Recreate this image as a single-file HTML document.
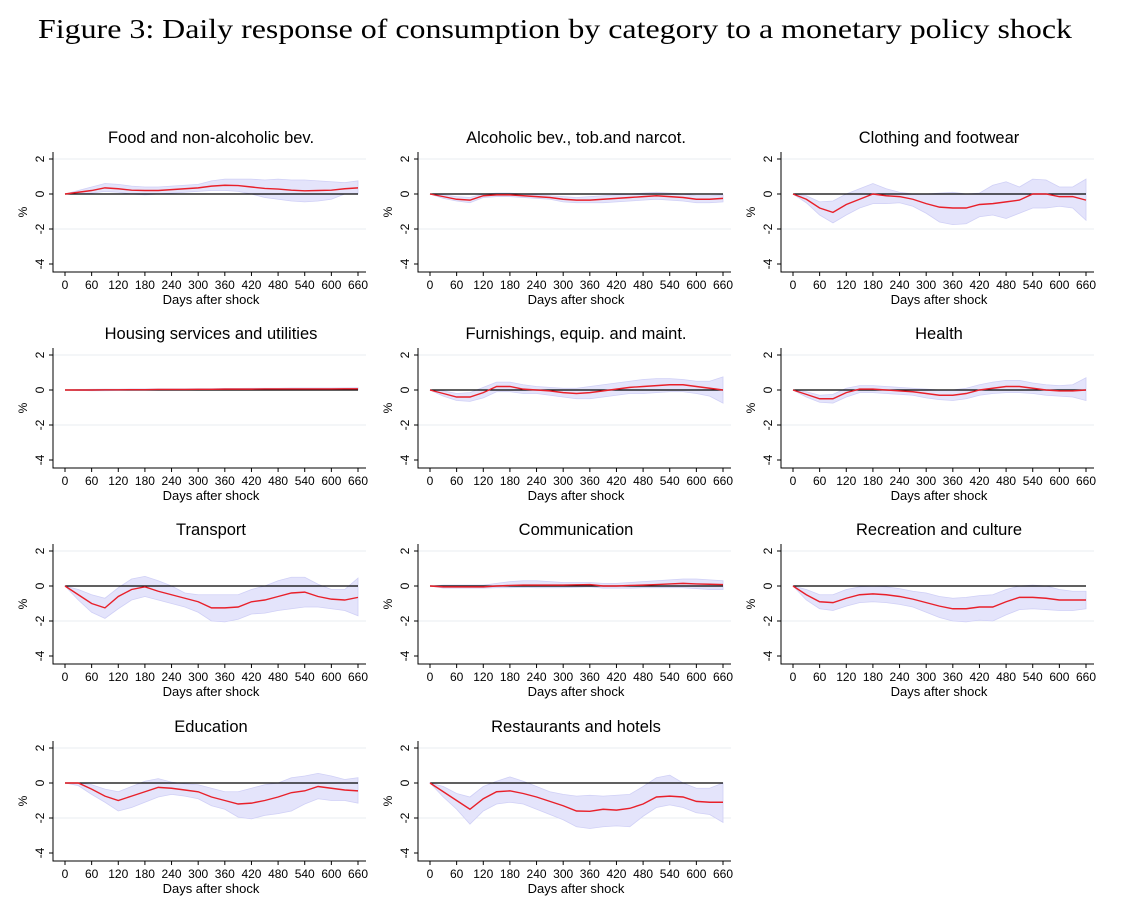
<!DOCTYPE html>
<html><head><meta charset="utf-8"><style>
body{margin:0;background:#fff;width:1128px;height:912px;overflow:hidden}
svg{display:block}
</style></head><body>
<svg id="fig" width="1128" height="912" xmlns="http://www.w3.org/2000/svg">
<text x="555" y="38" text-anchor="middle" font-family="Liberation Serif, serif" font-size="27" textLength="1034" lengthAdjust="spacingAndGlyphs">Figure 3: Daily response of consumption by category to a monetary policy shock</text>
</svg>
<script>
const days=[0,30,60,90,120,150,180,210,240,270,300,330,360,390,420,450,480,510,540,570,600,630,660];
const xTicks=[0,60,120,180,240,300,360,420,480,540,600,660];
const yTicks=[2,0,-2,-4];
const titles=["Food and non-alcoholic bev.","Alcoholic bev., tob.and narcot.","Clothing and footwear","Housing services and utilities","Furnishings, equip. and maint.","Health","Transport","Communication","Recreation and culture","Education","Restaurants and hotels"];
const mean1=[0,.1,.2,.35,.3,.22,.2,.2,.25,.3,.35,.45,.5,.48,.4,.32,.28,.22,.18,.2,.22,.3,.35];
const hi1=[0,.2,.4,.6,.55,.45,.4,.4,.45,.5,.55,.75,.85,.85,.85,.8,.85,.8,.8,.75,.7,.65,.75];
const lo1=[0,0,.05,.15,.1,0,-.05,0,.05,.1,.15,.2,.2,.15,0,-.2,-.3,-.4,-.45,-.4,-.3,0,0];
const mean2=[0,-.15,-.3,-.35,-.1,-.05,-.05,-.1,-.15,-.2,-.3,-.35,-.35,-.3,-.25,-.2,-.15,-.1,-.15,-.2,-.3,-.3,-.25];
const hi2=[0,-.05,-.15,-.2,0,.05,.05,0,-.05,-.1,-.15,-.2,-.15,-.1,-.05,0,.05,.1,.05,0,-.1,-.1,-.05];
const lo2=[0,-.25,-.4,-.5,-.2,-.15,-.15,-.2,-.25,-.3,-.45,-.5,-.5,-.5,-.45,-.4,-.35,-.3,-.35,-.4,-.5,-.5,-.45];
const mean3=[0,-.3,-.8,-1.05,-.6,-.3,0,-.1,-.15,-.3,-.55,-.75,-.8,-.8,-.6,-.55,-.45,-.35,0,0,-.15,-.15,-.35];
const hi3=[0,-.1,-.45,-.4,0,.3,.6,.3,.1,0,0,.05,.1,0,.05,.5,.7,.4,.85,.8,.4,.4,.85];
const lo3=[0,-.5,-1.2,-1.65,-1.2,-.8,-.55,-.55,-.5,-.7,-1.1,-1.6,-1.75,-1.7,-1.3,-1.2,-1.4,-1.1,-.8,-.8,-.7,-.8,-1.5];
const mean4=[0,0,0,.01,.01,.02,.02,.03,.03,.03,.04,.04,.05,.05,.05,.06,.06,.06,.06,.06,.06,.07,.07];
const hi4=[0,.03,.04,.05,.05,.06,.06,.07,.07,.07,.08,.08,.09,.09,.1,.1,.1,.11,.11,.11,.11,.12,.13];
const lo4=[0,-.03,-.04,-.04,-.03,-.02,-.02,-.01,-.01,-.01,0,0,0,0,0,.01,.01,.01,.01,.01,.01,.02,.01];
const mean5=[0,-.2,-.4,-.4,-.15,.2,.2,.05,0,-.05,-.15,-.2,-.15,-.05,.05,.15,.2,.25,.3,.3,.2,.1,0];
const hi5=[0,-.05,-.2,-.15,.15,.45,.45,.3,.2,.15,.1,.1,.2,.3,.4,.5,.6,.65,.65,.6,.5,.5,.75];
const lo5=[0,-.35,-.6,-.65,-.45,-.1,-.1,-.2,-.2,-.3,-.4,-.5,-.5,-.4,-.3,-.2,-.2,-.15,-.1,-.1,-.2,-.35,-.75];
const mean6=[0,-.25,-.5,-.5,-.15,.05,.05,0,-.05,-.1,-.2,-.3,-.3,-.2,0,.1,.2,.2,.1,0,-.05,-.05,0];
const hi6=[0,-.1,-.3,-.25,.1,.25,.25,.2,.15,.1,.05,0,0,.1,.3,.45,.55,.55,.4,.3,.25,.3,.7];
const lo6=[0,-.4,-.7,-.75,-.4,-.15,-.15,-.2,-.25,-.3,-.45,-.55,-.6,-.5,-.3,-.2,-.15,-.15,-.2,-.3,-.35,-.4,-.6];
const mean7=[0,-.5,-1.0,-1.25,-.6,-.2,-.05,-.3,-.5,-.7,-.9,-1.25,-1.25,-1.2,-.9,-.8,-.6,-.4,-.35,-.6,-.75,-.8,-.65];
const hi7=[0,-.2,-.5,-.7,-.1,.4,.55,.3,0,-.4,-.5,-.5,-.5,-.5,-.2,0,.3,.5,.5,.1,-.2,-.2,.45];
const lo7=[0,-.8,-1.5,-1.85,-1.3,-.8,-.6,-.8,-1.0,-1.2,-1.5,-2.0,-2.05,-1.9,-1.6,-1.55,-1.4,-1.3,-1.2,-1.2,-1.3,-1.4,-1.7];
const mean8=[0,-.05,-.05,-.05,-.05,0,.03,.05,.05,.05,.05,.07,.08,0,0,.03,.05,.08,.12,.15,.12,.1,.08];
const hi8=[0,.05,.05,.05,.05,.15,.25,.3,.3,.25,.2,.2,.2,.15,.15,.2,.25,.3,.35,.4,.4,.35,.3];
const lo8=[0,-.12,-.12,-.12,-.12,-.1,-.1,-.08,-.1,-.1,-.1,-.08,-.05,-.12,-.12,-.12,-.1,-.1,-.1,-.1,-.15,-.2,-.2];
const mean9=[0,-.5,-.9,-.95,-.7,-.5,-.45,-.5,-.6,-.75,-.95,-1.15,-1.3,-1.3,-1.2,-1.2,-.9,-.65,-.65,-.7,-.8,-.8,-.8];
const hi9=[0,-.2,-.5,-.5,-.2,-.05,0,-.05,-.15,-.3,-.4,-.6,-.7,-.65,-.55,-.5,-.2,0,.05,0,-.2,-.3,-.3];
const lo9=[0,-.8,-1.3,-1.4,-1.15,-.95,-.9,-.95,-1.05,-1.2,-1.5,-1.8,-2.0,-2.05,-1.95,-2.0,-1.65,-1.35,-1.3,-1.35,-1.4,-1.4,-1.3];
const mean10=[0,0,-.35,-.75,-1.0,-.75,-.5,-.25,-.3,-.4,-.5,-.8,-1.0,-1.2,-1.15,-1.0,-.8,-.55,-.45,-.2,-.3,-.4,-.45];
const hi10=[0,0,-.1,-.35,-.5,-.2,.1,.25,.05,-.05,-.1,-.3,-.5,-.5,-.3,-.1,0,.3,.4,.55,.4,.2,.3];
const lo10=[0,-.15,-.65,-1.1,-1.6,-1.4,-1.1,-.8,-.65,-.75,-.9,-1.3,-1.5,-1.95,-2.05,-1.85,-1.75,-1.6,-1.2,-.9,-1.0,-1.0,-1.15];
const mean11=[0,-.5,-1.0,-1.5,-.9,-.5,-.45,-.6,-.8,-1.05,-1.3,-1.6,-1.62,-1.5,-1.55,-1.45,-1.2,-.8,-.75,-.8,-1.05,-1.1,-1.1];
const hi11=[0,-.2,-.6,-.8,-.2,.1,.35,.1,-.2,-.5,-.65,-.75,-.7,-.75,-.7,-.65,-.2,.3,.45,0,-.3,-.3,0];
const lo11=[0,-.8,-1.5,-2.35,-1.6,-1.2,-1.1,-1.2,-1.5,-1.8,-2.1,-2.5,-2.6,-2.5,-2.45,-2.5,-1.9,-1.4,-1.25,-1.4,-1.7,-1.8,-2.25];
const means=[mean1,mean2,mean3,mean4,mean5,mean6,mean7,mean8,mean9,mean10,mean11];
const his=[hi1,hi2,hi3,hi4,hi5,hi6,hi7,hi8,hi9,hi10,hi11];
const los=[lo1,lo2,lo3,lo4,lo5,lo6,lo7,lo8,lo9,lo10,lo11];

const NS="http://www.w3.org/2000/svg";
const svg=document.getElementById('fig');
const colX=[65,430,793], rowY=[194,390,586,783];
function mk(tag,attrs,parent,txt){const e=document.createElementNS(NS,tag);for(const k in attrs)e.setAttribute(k,attrs[k]);if(txt!==undefined)e.textContent=txt;parent.appendChild(e);return e;}
const F="Liberation Sans, Arial, sans-serif";
titles.forEach((t,i)=>{
  const x0=colX[i%3], y0=rowY[Math.floor(i/3)];
  const xs=d=>x0+d*293/660, ys=v=>y0-v*17.5;
  const g=mk('g',{},svg);
  
  
  const tt=mk('text',{x:x0+146,y:y0-51,'text-anchor':'middle','font-family':F,'font-size':16.5},g,t);
  
  
  [2,-2].forEach(v=>{const l=mk('line',{x1:x0-12,x2:x0+301,y1:ys(v),y2:ys(v),stroke:'#e8eef2','stroke-width':1},g);
    });
  // band
  let d='M'+days.map((dd,k)=>xs(dd)+','+ys(his[i][k])).join('L');
  for(let k=days.length-1;k>=0;k--)d+='L'+xs(days[k])+','+ys(los[i][k]);
  const band=mk('path',{d:d+'Z',fill:'#e4e4fb',stroke:'#d0d0f6','stroke-width':0.8},g);
  
  
  const zl=mk('line',{x1:xs(0),x2:xs(660),y1:ys(0),y2:ys(0),stroke:'#000','stroke-width':1.3},g);
  
  
  const ln=mk('polyline',{points:days.map((dd,k)=>xs(dd)+','+ys(means[i][k])).join(' '),fill:'none',stroke:'#e8202a','stroke-width':1.4},g);
  
  
  const ax=mk('path',{d:`M${x0-12},${y0-42}V${y0+78}H${x0+301}`,fill:'none',stroke:'#000','stroke-width':1},g);
  
  
  yTicks.forEach(v=>{mk('line',{x1:x0-16,x2:x0-12,y1:ys(v),y2:ys(v),stroke:'#000'},g);
    const tl=mk('text',{x:0,y:0,transform:`translate(${x0-21},${ys(v)}) rotate(-90)`,'text-anchor':'middle','font-family':F,'font-size':12},g,String(v));
    });
  xTicks.forEach(v=>{mk('line',{x1:xs(v),x2:xs(v),y1:y0+78,y2:y0+82,stroke:'#000'},g);
    const tl=mk('text',{x:xs(v),y:y0+95,'text-anchor':'middle','font-family':F,'font-size':12},g,String(v));
    });
  const xl=mk('text',{x:x0+146,y:y0+110,'text-anchor':'middle','font-family':F,'font-size':13},g,'Days after shock');
  
  
  const yl=mk('text',{x:0,y:0,transform:`translate(${x0-38},${y0+18}) rotate(-90)`,'text-anchor':'middle','font-family':F,'font-size':12},g,'%');
  
  
});
</script>
</body></html>
